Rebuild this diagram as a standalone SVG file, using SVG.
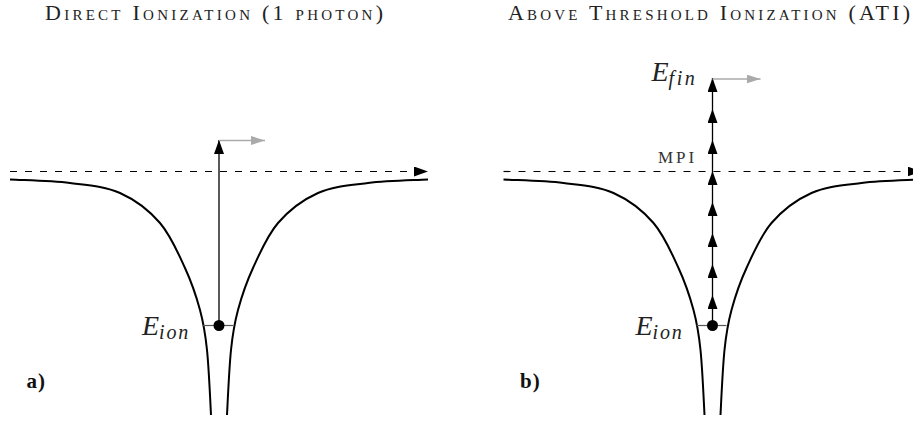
<svg xmlns="http://www.w3.org/2000/svg" xmlns:xlink="http://www.w3.org/1999/xlink" width="913" height="421" viewBox="0 0 913 421">
<style>
text{font-family:"Liberation Serif","DejaVu Serif",serif}
.title{font-variant:small-caps;font-size:22px;fill:#222}
.lab{font-style:italic;font-size:28px;fill:#222}
.sub{font-size:20px}
.mpi{font-size:17px;letter-spacing:3px;fill:#333}
.tag{font-weight:bold;font-size:21px;letter-spacing:1px;fill:#111}
.well{fill:none;stroke:#000;stroke-width:2}
.thr{fill:none;stroke:#000;stroke-width:1.2;stroke-dasharray:7 8}
.ph{fill:none;stroke:#000;stroke-width:1.3}
.out{fill:none;stroke:#aaa;stroke-width:1.3}
.lvl{fill:none;stroke:#555;stroke-width:1.2}
</style>
<defs>
<marker id="ah" viewBox="0 0 14 10" refX="14" refY="5" markerWidth="14" markerHeight="10" markerUnits="userSpaceOnUse" orient="auto"><path d="M0,0 L14,5 L0,10 z" fill="#000"/></marker>
<marker id="ahg" viewBox="0 0 14 9" refX="14" refY="4.5" markerWidth="14" markerHeight="9" markerUnits="userSpaceOnUse" orient="auto"><path d="M0,0 L14,4.5 L0,9 z" fill="#aaa"/></marker>
<path id="curveL" class="well" d="M10,179.5 C30,180.4 51.7,180.75 70,183 C88.3,185.25 105,186.3 120,193 C135,199.7 149.2,210.5 160,223 C170.8,235.5 178.3,253.5 185,268 C191.7,282.5 196.3,296.3 200,310 C203.7,323.7 205.2,332.5 207,350 C208.8,367.5 210,395 211,415"/>
<g id="well">
<use xlink:href="#curveL"/>
<use xlink:href="#curveL" transform="translate(438,0) scale(-1,1)"/>
<path class="thr" d="M10,171.5 L428,171.5" marker-end="url(#ah)"/>
</g>
</defs>

<g id="panelA">
<text class="title" x="45" y="20" textLength="338" lengthAdjust="spacing">Direct Ionization (1 photon)</text>
<use xlink:href="#well"/>
<g id="connectorsA">
<path class="lvl" d="M203,325.5 L233,325.5"/>
<path class="ph" d="M219,325 L219,140" marker-end="url(#ah)"/>
<path class="out" d="M219,140.5 L265,140.5" marker-end="url(#ahg)"/>
</g>
<g id="groundA"><circle cx="219" cy="325.5" r="5.5" fill="#000"/></g>
<text class="lab" x="142" y="335">E<tspan class="sub" dy="4" letter-spacing="1.8">ion</tspan></text>
<text class="tag" x="26.5" y="388">a)</text>
</g>

<g id="panelB" transform="translate(493.5,0)">
<text class="title" x="14.5" y="20" textLength="402" lengthAdjust="spacing">Above Threshold Ionization (ATI)</text>
<use xlink:href="#well"/>
<g id="connectorsB">
<path class="lvl" d="M203,325.5 L233,325.5"/>
<path class="ph" d="M219,325 L219,295 L219,264 L219,233 L219,202 L219,171 L219,140 L219,109 L219,78" marker-mid="url(#ah)" marker-end="url(#ah)"/>
<path class="out" d="M219,79 L267,79" marker-end="url(#ahg)"/>
</g>
<g id="groundB"><circle cx="219" cy="325.5" r="5.5" fill="#000"/></g>
<text class="lab" x="142" y="335">E<tspan class="sub" dy="4" letter-spacing="1.8">ion</tspan></text>
<text class="lab" x="158" y="81">E<tspan class="sub" dy="4" letter-spacing="2.5">fin</tspan></text>
<text class="mpi" x="164.5" y="162.5">MPI</text>
<text class="tag" x="26.5" y="388">b)</text>
</g>
</svg>
